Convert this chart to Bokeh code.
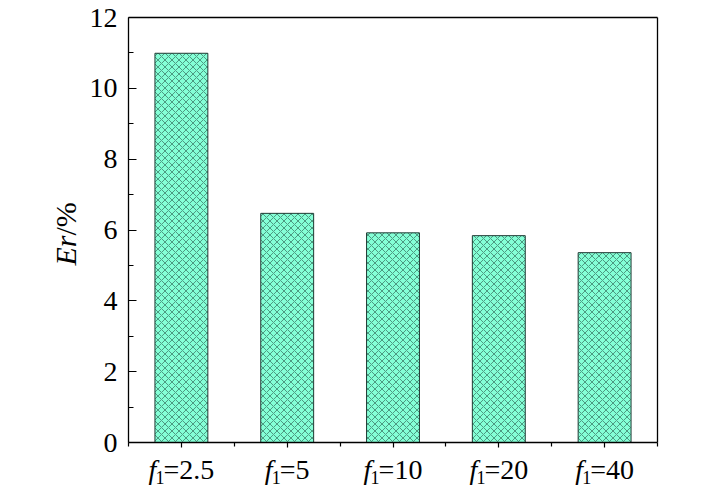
import math
from bokeh.plotting import figure
from bokeh.models import Range1d, FixedTicker, Label, LinearAxis
from bokeh.embed import file_html
from bokeh.resources import INLINE

# ---- data ----
categories = ["2.5", "5", "10", "20", "40"]
er_values = [10.99, 6.47, 5.92, 5.84, 5.36]
y_ticks = [0, 2, 4, 6, 8, 10, 12]
y_minor = [1, 3, 5, 7, 9, 11]
y_max = 12
y_label_italic = "Er"
y_label_rest = "/%"
x_label_prefix = "f"
x_label_sub = "1"

FONT = "Liberation Serif"
FS = 28
SUB_FS = 18
TITLE_FS = 30

# canvas geometry (pixels)
W_FIG, H_FIG = 708, 495
F_L, F_R, F_T, F_B = 128, 657, 17, 442   # plot box edges on canvas
TEXT_SHIFT = 9                            # correction for label placement

n = len(categories)
xs = [i + 0.5 for i in range(n)]

px_x = (F_R - F_L) / n
px_y = (F_B - F_T) / y_max
x0 = -F_L / px_x
x1 = n + (W_FIG - F_R) / px_x
y0 = -(H_FIG - F_B) / px_y
y1 = y_max + F_T / px_y


def dx(cx):
    return x0 + cx / px_x


def dy(cy):
    return y1 - cy / px_y


p = figure(width=W_FIG, height=H_FIG, output_backend="svg", toolbar_location=None,
           x_range=Range1d(x0, x1), y_range=Range1d(y0, y1),
           min_border=0, min_border_left=0, min_border_right=0,
           min_border_top=0, min_border_bottom=0)
p.background_fill_color = "white"
p.border_fill_color = "white"
p.outline_line_color = None
p.xgrid.visible = False
p.ygrid.visible = False

p.vbar(x=xs, top=er_values, width=0.5, bottom=0,
       fill_color="#84FFD6", line_color="#1f3a33", line_width=1,
       hatch_pattern="diagonal_cross", hatch_color="#3a7866",
       hatch_scale=7, hatch_weight=0.75)

# left axis: ticks inside
ya = p.yaxis[0]
ya.fixed_location = 0
ya.bounds = (0, y_max)
ya.ticker = FixedTicker(ticks=y_ticks, minor_ticks=y_minor)
ya.major_tick_in = 8
ya.major_tick_out = 0
ya.minor_tick_in = 5
ya.minor_tick_out = 0
ya.axis_line_width = 1.3
ya.major_tick_line_width = 1.2
ya.minor_tick_line_width = 1.2
ya.major_label_text_font = FONT
ya.major_label_text_font_size = f"{FS}px"
ya.major_label_text_color = "black"
ya.major_label_standoff = 11

# bottom axis: ticks outside, labels drawn as separate texts
xa = p.xaxis[0]
xa.fixed_location = 0
xa.bounds = (0, n)
xa.ticker = FixedTicker(ticks=xs, minor_ticks=list(range(n + 1)))
xa.major_tick_in = 0
xa.major_tick_out = 5
xa.minor_tick_in = 0
xa.minor_tick_out = 4
xa.axis_line_width = 1.3
xa.major_tick_line_width = 1.2
xa.minor_tick_line_width = 1.2
xa.major_label_overrides = {x: "" for x in xs}

# top and right frame lines (plain axes, no ticks/labels)
top_ax = LinearAxis(fixed_location=y_max, bounds=(0, n),
                    ticker=FixedTicker(ticks=[]), major_tick_in=0,
                    major_tick_out=0, minor_tick_in=0, minor_tick_out=0,
                    axis_line_width=1.3, major_label_text_font_size="0px")
right_ax = LinearAxis(fixed_location=n, bounds=(0, y_max),
                      ticker=FixedTicker(ticks=[]), major_tick_in=0,
                      major_tick_out=0, minor_tick_in=0, minor_tick_out=0,
                      axis_line_width=1.3, major_label_text_font_size="0px")
p.add_layout(top_ax, "above")
p.add_layout(right_ax, "right")

# x tick labels: italic f, subscript 1, "=value"
W = {"0": 0.5, "1": 0.5, "2": 0.5, "3": 0.5, "4": 0.5, "5": 0.5, "6": 0.5,
     "7": 0.5, "8": 0.5, "9": 0.5, "=": 0.564, ".": 0.25}
base_y = dy(477.5 - TEXT_SHIFT)
sub_y = dy(485.5 - TEXT_SHIFT)
for x, c in zip(xs, categories):
    rest = "=" + c
    rest_w = sum(W[ch] for ch in rest) * FS
    total = 15 + rest_w
    o = -total / 2
    p.add_layout(Label(x=x, y=base_y, x_offset=o, text=x_label_prefix,
                       text_font=FONT, text_font_style="italic",
                       text_font_size=f"{FS}px", text_align="left",
                       text_baseline="alphabetic", text_color="black"))
    p.add_layout(Label(x=x, y=sub_y, x_offset=o + 7, text=x_label_sub,
                       text_font=FONT, text_font_size=f"{SUB_FS}px",
                       text_align="left", text_baseline="alphabetic",
                       text_color="black"))
    p.add_layout(Label(x=x, y=base_y, x_offset=o + 15, text=rest,
                       text_font=FONT, text_font_size=f"{FS}px",
                       text_align="left", text_baseline="alphabetic",
                       text_color="black"))

# y axis title "Er/%" (rotated)
er_w = (0.611 + 0.389) * TITLE_FS
tx = dx(76 - TEXT_SHIFT - 2)
p.add_layout(Label(x=tx, y=dy(265), text=y_label_italic, angle=math.pi / 2,
                   text_font=FONT, text_font_style="italic",
                   text_font_size=f"{TITLE_FS}px", text_align="left",
                   text_baseline="alphabetic", text_color="black"))
p.add_layout(Label(x=tx, y=dy(265 - er_w), text=y_label_rest,
                   angle=math.pi / 2, text_font=FONT,
                   text_font_size=f"{TITLE_FS}px", text_align="left",
                   text_baseline="alphabetic", text_color="black"))

open("out.html", "w").write(file_html(p, INLINE))
